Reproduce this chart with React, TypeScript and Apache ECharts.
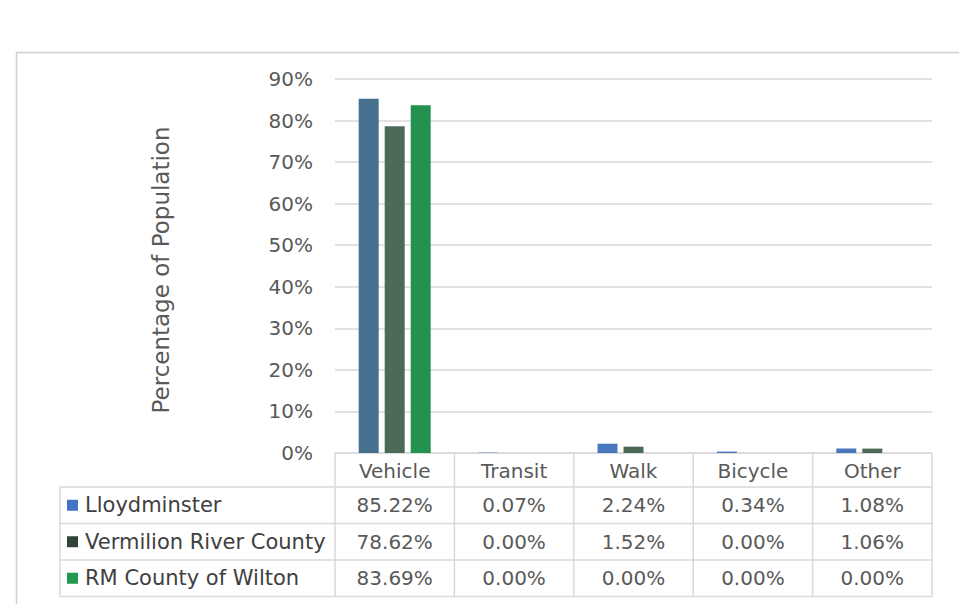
import React, { useEffect, useRef } from "react";
import * as echarts from "echarts";

const categories = ["Vehicle", "Transit", "Walk", "Bicycle", "Other"];
const seriesNames = ["Lloydminster", "Vermilion River County", "RM County of Wilton"];
const lloydminster = [85.22, 0.07, 2.24, 0.34, 1.08];
const vermilion = [78.62, 0.0, 1.52, 0.0, 1.06];
const wilton = [83.69, 0.0, 0.0, 0.0, 0.0];
const yMax = 90;
const yStep = 10;

const seriesValues = [lloydminster, vermilion, wilton];
const seriesColors = ["#4A78BE", "#4A6A56", "#23924F"];
const mainBarColors = ["#47708F", "#4B6A58", "#23924F"];
const keyColors = ["#4472C4", "#2F4636", "#23994F"];

const W = 959;
const H = 604;
const GRID_L = 335;
const GRID_R = 932;
const GRID_T = 79;
const GRID_B = 453;
const ROW_H = 36.5;
const TABLE_L = 60;
const FONT = "DejaVu Sans";
const LINE = "#D9D9D9";
const TXT = "#595959";

export default function App() {
  const ref = useRef<HTMLDivElement>(null);
  useEffect(() => {
    if (!ref.current) return;
    const chart = echarts.init(ref.current, null, { renderer: "svg" });
    const colW = (GRID_R - GRID_L) / categories.length;
    const g: any[] = [];
    g.push({
      type: "rect",
      shape: { x: 16.5, y: 52.5, width: 1000, height: 600 },
      style: { fill: "none", stroke: "#D0D0D0", lineWidth: 1.5 },
      silent: true,
    });
    g.push({
      type: "text",
      x: 161,
      y: 270,
      rotation: Math.PI / 2,
      style: {
        text: "Percentage of Population",
        font: `23px "${FONT}"`,
        fill: TXT,
        textAlign: "center",
        textVerticalAlign: "middle",
      },
    });
    const headerTop = GRID_B;
    const headerBot = GRID_B + 34;
    const tableBot = headerBot + ROW_H * seriesNames.length;
    g.push({ type: "line", shape: { x1: GRID_L, y1: headerTop, x2: GRID_R, y2: headerTop }, style: { stroke: LINE, lineWidth: 1.5 } });
    for (let i = 0; i <= categories.length; i++) {
      const x = GRID_L + i * colW;
      g.push({ type: "line", shape: { x1: x, y1: headerTop, x2: x, y2: tableBot }, style: { stroke: LINE, lineWidth: 1.5 } });
    }
    for (let r = 0; r <= seriesNames.length; r++) {
      const y = headerBot + r * ROW_H;
      g.push({ type: "line", shape: { x1: TABLE_L, y1: y, x2: GRID_R, y2: y }, style: { stroke: LINE, lineWidth: 1.5 } });
    }
    g.push({ type: "line", shape: { x1: TABLE_L, y1: headerBot, x2: TABLE_L, y2: tableBot }, style: { stroke: LINE, lineWidth: 1.5 } });
    categories.forEach((c, i) => {
      g.push({
        type: "text",
        x: GRID_L + (i + 0.5) * colW,
        y: (headerTop + headerBot) / 2 + 1,
        style: { text: c, font: `20px "${FONT}"`, fill: TXT, textAlign: "center", textVerticalAlign: "middle" },
      });
    });
    seriesNames.forEach((name, r) => {
      const cy = headerBot + (r + 0.5) * ROW_H;
      g.push({ type: "rect", shape: { x: 67, y: cy - 5.5, width: 11, height: 11 }, style: { fill: keyColors[r] } });
      g.push({
        type: "text",
        x: 85,
        y: cy,
        style: { text: name, font: `21px "${FONT}"`, fill: "#404040", textAlign: "left", textVerticalAlign: "middle" },
      });
      seriesValues[r].forEach((v, i) => {
        g.push({
          type: "text",
          x: GRID_L + (i + 0.5) * colW,
          y: cy,
          style: { text: v.toFixed(2) + "%", font: `20px "${FONT}"`, fill: TXT, textAlign: "center", textVerticalAlign: "middle" },
        });
      });
    });

    chart.setOption({
      animation: false,
      backgroundColor: "#FFFFFF",
      grid: { left: GRID_L, right: W - GRID_R, top: GRID_T, bottom: H - GRID_B, containLabel: false },
      xAxis: {
        type: "category",
        data: categories,
        axisLine: { show: false },
        axisTick: { show: false },
        axisLabel: { show: false },
      },
      yAxis: {
        type: "value",
        min: 0,
        max: yMax,
        interval: yStep,
        axisLine: { show: false },
        axisTick: { show: false },
        axisLabel: {
          formatter: "{value}%",
          fontFamily: FONT,
          fontSize: 20,
          color: TXT,
          margin: 22,
        },
        splitLine: { lineStyle: { color: LINE, width: 1.5 } },
      },
      series: seriesNames.map((name, s) => ({
        name,
        type: "bar",
        barWidth: 20,
        barGap: "30%",
        itemStyle: { color: seriesColors[s] },
        data: seriesValues[s].map((v, i) =>
          i === 0 ? { value: v, itemStyle: { color: mainBarColors[s] } } : v
        ),
      })),
      graphic: g,
    });
    return () => chart.dispose();
  }, []);
  return <div ref={ref} style={{ position: "fixed", left: 0, top: 0, width: W, height: H }} />;
}
